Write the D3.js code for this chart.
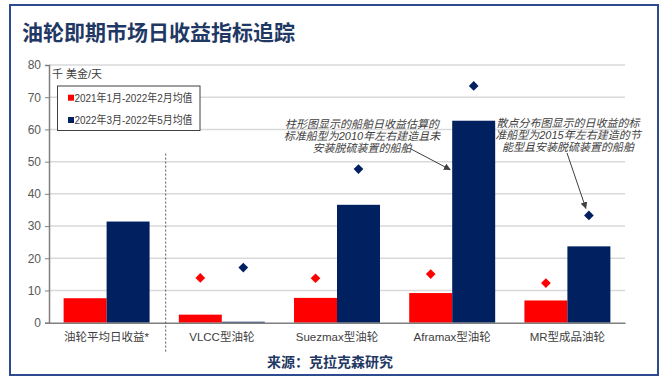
<!DOCTYPE html>
<html>
<head>
<meta charset="utf-8">
<script src="https://cdn.jsdelivr.net/npm/d3@7"></script>
<style>
  body { margin: 0; background: #fff; }
  svg { display: block; font-family: "Liberation Sans", Arial, "Noto Sans CJK SC", sans-serif; }
</style>
</head>
<body>
<div id="chart"></div>
<script>
// values (千美金/天)
var categories = ['油轮平均日收益*', 'VLCC型油轮', 'Suezmax型油轮', 'Aframax型油轮', 'MR型成品油轮'];
var seriesNames = ['2021年1月-2022年2月均值', '2022年3月-2022年5月均值'];
var bars2021 = [7.6, 2.5, 7.7, 9.2, 6.9];
var bars2022 = [31.4, 0.3, 36.6, 62.7, 23.7];
var dots2021 = [null, 13.9, 13.8, 15.1, 12.3];
var dots2022 = [null, 17.1, 47.7, 73.5, 33.3];
var yTicks = [0, 10, 20, 30, 40, 50, 60, 70, 80];

var width = 670, height = 380;
var red = '#ff0000', navy = '#002060';

var svg = d3.select('#chart').append('svg')
    .attr('width', width)
    .attr('height', height);

// frame
svg.append('rect')
    .attr('x', 10).attr('y', 5)
    .attr('width', 648).attr('height', 370)
    .attr('fill', 'none')
    .attr('stroke', '#2f4b8f')
    .attr('stroke-width', 2);

svg.append('text')
    .attr('x', 22).attr('y', 40)
    .attr('font-size', 21)
    .attr('font-weight', 'bold')
    .attr('fill', '#1f3864')
    .attr('font-family', '"Noto Sans CJK SC", sans-serif')
    .text('油轮即期市场日收益指标追踪');

var x = d3.scaleBand().domain(categories).range([49, 625]);
var x1 = d3.scaleBand().domain([0, 1]).range([0, x.bandwidth()]).paddingOuter(0.34);
var y = d3.scaleLinear().domain([0, 80]).range([322.7, 65]);

// gridlines
svg.append('g').selectAll('line')
    .data(yTicks.filter(d => d > 0))
    .join('line')
    .attr('x1', 49).attr('x2', 625)
    .attr('y1', d => y(d)).attr('y2', d => y(d))
    .attr('stroke', '#d9d9d9')
    .attr('stroke-width', 1.5);

// bars
var rows = categories.map((c, i) => ({ c: c, v: [bars2021[i], bars2022[i]], d: [dots2021[i], dots2022[i]] }));
var colors = [red, navy];

var grp = svg.append('g').selectAll('g')
    .data(rows)
    .join('g')
    .attr('transform', d => 'translate(' + x(d.c) + ',0)');

grp.selectAll('rect')
    .data(d => d.v.map((v, k) => ({ v: v, k: k })))
    .join('rect')
    .attr('x', d => x1(d.k))
    .attr('width', x1.bandwidth())
    .attr('y', d => y(d.v))
    .attr('height', d => y(0) - y(d.v))
    .attr('fill', d => colors[d.k]);

// diamonds
var diamond = d3.symbol().type(d3.symbolDiamond2).size(60);
grp.selectAll('path')
    .data(d => d.d.map((v, k) => ({ v: v, k: k })).filter(p => p.v != null))
    .join('path')
    .attr('d', diamond)
    .attr('transform', d => 'translate(' + (x1(d.k) + x1.bandwidth() / 2) + ',' + y(d.v) + ')')
    .attr('fill', d => colors[d.k]);

// y axis
var yAxis = svg.append('g')
    .attr('transform', 'translate(49,0)')
    .call(d3.axisLeft(y).tickValues(yTicks).tickSize(4).tickPadding(4));
yAxis.select('.domain').attr('stroke', '#7f7f7f').attr('stroke-width', 1.5);
yAxis.selectAll('.tick line').attr('stroke', '#7f7f7f');
yAxis.selectAll('text').attr('font-size', 12).attr('fill', '#595959');

// x axis
var xAxis = svg.append('g')
    .attr('transform', 'translate(0,' + y(0) + ')')
    .call(d3.axisBottom(x).tickSize(0).tickPadding(10));
xAxis.select('.domain').attr('stroke', '#7f7f7f').attr('stroke-width', 1.5);
xAxis.selectAll('text')
    .attr('font-size', 11.5)
    .attr('fill', '#404040')
    .attr('font-family', '"Liberation Sans", "Noto Sans CJK SC", sans-serif');

// separator between fleet average and ship types
var sepX = x(categories[1]) + 1.5;
svg.append('line')
    .attr('x1', sepX).attr('x2', sepX)
    .attr('y1', y(52.5)).attr('y2', 352)
    .attr('stroke', '#595959')
    .attr('stroke-dasharray', '2,2');

// unit
svg.append('text')
    .attr('x', 52).attr('y', 77.5)
    .attr('font-size', 11)
    .attr('fill', '#404040')
    .text('千 美金/天');

// legend
var lg = svg.append('g').attr('transform', 'translate(57.5,86)');
lg.append('rect')
    .attr('width', 142.5).attr('height', 44.5)
    .attr('fill', '#fff')
    .attr('stroke', '#404040')
    .attr('stroke-width', 1);
seriesNames.forEach(function(name, k) {
    var cy = 11.7 + k * 22.3;
    lg.append('rect')
        .attr('x', 10.5).attr('y', cy - 3)
        .attr('width', 6).attr('height', 6)
        .attr('fill', colors[k]);
    lg.append('text')
        .attr('x', 17).attr('y', cy + 4)
        .attr('font-size', 11)
        .attr('fill', '#404040')
        .attr('textLength', 118)
        .attr('lengthAdjust', 'spacingAndGlyphs')
        .text(name);
});

// annotations
svg.append('defs').append('marker')
    .attr('id', 'arrow')
    .attr('viewBox', '0 0 10 10')
    .attr('refX', 9).attr('refY', 5)
    .attr('markerWidth', 7).attr('markerHeight', 7)
    .attr('orient', 'auto')
    .append('path')
    .attr('d', 'M0,0L10,5L0,10z')
    .attr('fill', '#404040');

function note(lines, cx, top) {
    var t = svg.append('text')
        .attr('font-size', 11)
        .attr('font-style', 'italic')
        .attr('fill', '#404040')
        .attr('text-anchor', 'middle');
    lines.forEach(function(l, i) {
        t.append('tspan').attr('x', cx).attr('y', top + i * 11.8).text(l);
    });
}

note(['柱形图显示的船舶日收益估算的', '标准船型为2010年左右建造且未', '安装脱硫装置的船舶'], 362, 128);
var aframaxBlueLeft = x(categories[3]) + x1(1);
svg.append('line')
    .attr('x1', 411).attr('y1', 149)
    .attr('x2', aframaxBlueLeft - 2).attr('y2', y(47.5))
    .attr('stroke', '#404040')
    .attr('stroke-width', 1)
    .attr('marker-end', 'url(#arrow)');

note(['散点分布图显示的日收益的标', '准船型为2015年左右建造的节', '能型且安装脱硫装置的船舶'], 568, 127);
var mrDotX = x(categories[4]) + x1(1) + x1.bandwidth() / 2;
svg.append('line')
    .attr('x1', 567).attr('y1', 153)
    .attr('x2', mrDotX - 3).attr('y2', y(dots2022[4]) - 7)
    .attr('stroke', '#404040')
    .attr('stroke-width', 1)
    .attr('marker-end', 'url(#arrow)');

// source
svg.append('text')
    .attr('x', 330).attr('y', 367)
    .attr('text-anchor', 'middle')
    .attr('font-size', 14)
    .attr('font-weight', 'bold')
    .attr('fill', '#1f3864')
    .attr('font-family', '"Noto Sans CJK SC", sans-serif')
    .text('来源：克拉克森研究');
</script>
</body>
</html>
